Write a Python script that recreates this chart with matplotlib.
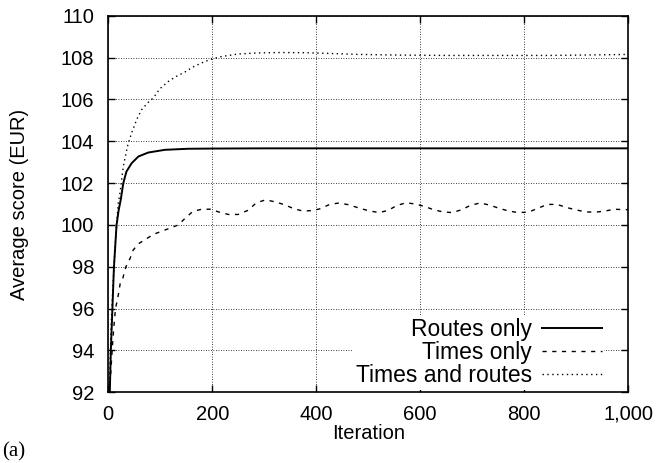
import matplotlib
matplotlib.use('Agg')
import matplotlib.pyplot as plt
from matplotlib.ticker import FuncFormatter, MultipleLocator

plt.rcParams['font.family'] = ['Liberation Sans', 'DejaVu Sans']

# values
routes_it = [0, 3, 5, 8, 11, 16, 20, 24, 29, 35, 45, 58, 77, 109, 154,
             200, 300, 400, 500, 600, 700, 800, 900, 1000]
routes_val = [91.4, 92.0, 94.0, 96.0, 98.0, 100.0, 100.7, 101.2, 102.0,
              102.55, 102.95, 103.27, 103.46, 103.59, 103.64, 103.65,
              103.66, 103.66, 103.66, 103.66, 103.66, 103.66, 103.66, 103.66]

times_it = [0, 5, 8, 11, 14, 19, 23, 28, 34, 42, 48, 58, 71, 87, 103, 119,
            135, 149, 163, 180, 196, 215, 231, 250, 269, 285, 303, 321, 340,
            357, 375, 394, 407, 426, 444, 463, 483, 502, 521, 538, 555, 573,
            590, 609, 625, 644, 662, 680, 696, 715, 733, 751, 769, 788, 808,
            827, 844, 863, 882, 899, 919, 937, 955, 973, 992, 1000]
times_val = [91.0, 93.0, 94.2, 95.2, 96.0, 96.6, 97.2, 97.45, 98.0, 98.4,
             98.8, 99.1, 99.3, 99.55, 99.7, 99.85, 100.0, 100.35, 100.65,
             100.75, 100.75, 100.6, 100.5, 100.5, 100.7, 101.06, 101.2,
             101.1, 100.96, 100.77, 100.66, 100.69, 100.77, 100.98, 101.05,
             100.96, 100.8, 100.67, 100.59, 100.69, 100.93, 101.06, 101.0,
             100.88, 100.73, 100.62, 100.59, 100.73, 100.93, 101.05, 100.95,
             100.8, 100.67, 100.59, 100.61, 100.8, 100.98, 100.98, 100.83,
             100.72, 100.62, 100.61, 100.66, 100.75, 100.73, 100.73]

both_it = [0, 3, 6, 10, 14, 19, 23, 29, 37, 45, 55, 64, 76, 87, 99, 115,
           131, 147, 163, 183, 199, 218, 250, 288, 330, 380, 420, 480, 550,
           650, 750, 850, 950, 1000]
both_val = [91.5, 93.0, 95.5, 97.5, 99.3, 101.0, 101.6, 102.8, 103.76,
            104.4, 105.05, 105.5, 105.84, 106.08, 106.5, 106.85, 107.1,
            107.3, 107.55, 107.78, 107.93, 108.05, 108.17, 108.22, 108.24,
            108.23, 108.2, 108.15, 108.12, 108.1, 108.1, 108.1, 108.13, 108.15]

labels = ['Routes only', 'Times only', 'Times and routes']

fig = plt.figure(figsize=(6.56, 4.63), dpi=100)
ax = fig.add_axes([0.165, 0.1527, 0.7927, 0.8134])

ax.plot(routes_it, routes_val, color='black', lw=1.4, label=labels[0])
ax.plot(times_it, times_val, color='black', lw=1.0, ls=(0, (3, 4)), label=labels[1])
ax.plot(both_it, both_val, color='black', lw=1.0, ls=(0, (1, 2.5)), label=labels[2])

ax.set_xlim(0, 1000)
ax.set_ylim(92, 110)
ax.xaxis.set_major_locator(MultipleLocator(200))
ax.yaxis.set_major_locator(MultipleLocator(2))
ax.xaxis.set_major_formatter(FuncFormatter(lambda v, p: '{:,}'.format(int(v))))

ax.grid(True, color='black', lw=0.6, ls=(0, (1, 2)))
ax.tick_params(direction='in', top=True, right=True, length=5, width=1,
               labelsize=14.5, colors='black')
ax.tick_params(axis='y', pad=10)
ax.tick_params(axis='x', pad=9)
for s in ax.spines.values():
    s.set_linewidth(1.2)

ax.set_xlabel('Iteration', fontsize=14.5)
ax.set_ylabel('Average score (EUR)', fontsize=14.5)
ax.xaxis.set_label_coords(0.5, -0.085)
ax.yaxis.set_label_coords(-0.153, 0.5)

leg = ax.legend(loc='lower right', bbox_to_anchor=(0.953, 0.007),
                borderaxespad=0, markerfirst=False, frameon=True,
                fancybox=False, framealpha=1, edgecolor='none',
                fontsize=16.5, handlelength=2.6, handletextpad=0.44,
                labelspacing=0.0, borderpad=0.1)
for t in leg.get_texts():
    t.set_ha('right')

fig.text(0.003, 1 - 452 / 463, '(a)', va='center', ha='left', fontsize=15,
         family=['Liberation Serif', 'DejaVu Serif'])

fig.savefig('out.png', dpi=100)
